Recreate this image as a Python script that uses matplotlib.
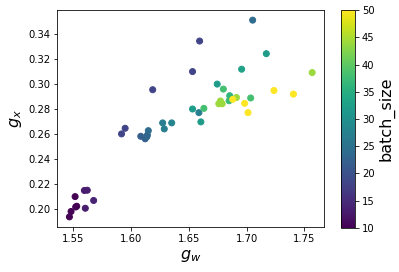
import matplotlib
matplotlib.use("Agg")
import matplotlib.pyplot as plt

# g_w, g_x and batch size for each run
g_w = [1.5471, 1.5485, 1.5534, 1.5525, 1.5520, 1.5608, 1.5680, 1.5600, 1.5625,
       1.5921, 1.5952, 1.6190, 1.6534, 1.6595,
       1.6087, 1.6125, 1.6144, 1.6152, 1.6139,
       1.6276, 1.6290, 1.6354, 1.7053,
       1.7171, 1.6958, 1.6747, 1.6534, 1.6589, 1.6606, 1.6632,
       1.6800, 1.6855, 1.6850, 1.6913, 1.6881,
       1.6775, 1.6761, 1.6790, 1.7036, 1.6984, 1.7013,
       1.7567, 1.7237, 1.7405]
g_x = [0.1939, 0.1982, 0.2024, 0.2018, 0.2101, 0.2008, 0.2070, 0.2150, 0.2152,
       0.2602, 0.2647, 0.2955, 0.3100, 0.3344,
       0.2583, 0.2563, 0.2592, 0.2628, 0.2579,
       0.2690, 0.2642, 0.2690, 0.3511,
       0.3243, 0.3119, 0.3000, 0.2801, 0.2772, 0.2698, 0.2806,
       0.2960, 0.2907, 0.2867, 0.2893, 0.2878,
       0.2865, 0.2843, 0.2843, 0.2889, 0.2846, 0.2772,
       0.3092, 0.2949, 0.2920]
batch_size = [10, 10, 10, 10, 10, 13, 14, 13, 13,
              18, 18, 18, 18, 18,
              22, 22, 23, 24, 23,
              27, 27, 28, 24,
              32, 33, 32, 32, 27, 32, 38,
              38, 36, 37, 44, 50,
              44, 44, 44, 38, 50, 50,
              44, 50, 50]

fig = plt.figure(figsize=(399 / 72, 272 / 72), dpi=72)
ax = fig.add_axes([0.1436, 0.1665, 0.6692, 0.7956])
cax = fig.add_axes([0.8546, 0.1618, 0.0351, 0.8014])

sc = ax.scatter(g_w, g_x, c=batch_size, cmap="viridis", vmin=10, vmax=50, s=36)
ax.set_xlabel("$g_w$", fontsize=16)
ax.set_ylabel("$g_x$", fontsize=16)
ax.tick_params(labelsize=10)

cb = fig.colorbar(sc, cax=cax)
cb.set_label("batch_size", fontsize=16)
cb.ax.tick_params(labelsize=10)

fig.savefig("out.png", dpi=72)
